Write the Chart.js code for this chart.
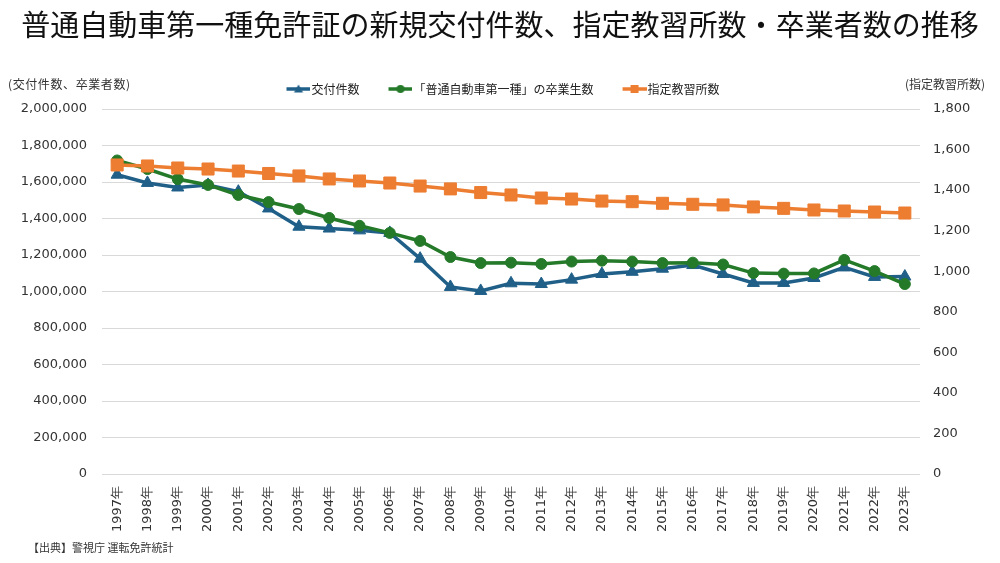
<!DOCTYPE html>
<html lang="ja">
<head>
<meta charset="utf-8">
<title>普通自動車第一種免許証の新規交付件数、指定教習所数・卒業者数の推移</title>
<script src="https://cdn.jsdelivr.net/npm/chart.js@4/dist/chart.umd.min.js"></script>
<style>
  html, body { margin: 0; padding: 0; background: #fff; }
  #wrap { position: relative; width: 1000px; height: 563px; overflow: hidden; font-family: "Noto Sans CJK JP", sans-serif; color: #222; }
  #chart { position: absolute; left: 0; top: 0; }
  .txt { position: absolute; white-space: nowrap; }
  #title { left: 0; width: 1000px; top: 3px; text-align: center; font-size: 31px; line-height: 40px; color: #111; }
  #title span { display: inline-block; }
  #capL { left: 8px; top: 75px; font-size: 12px; letter-spacing: 0.6px; color: #333; }
  #capR { left: 905px; top: 75px; font-size: 12px; color: #333; }
  #src { left: 28px; top: 539px; font-size: 11px; color: #333; }
</style>
</head>
<body>
<div id="wrap">
  <canvas id="chart" width="1000" height="563"></canvas>
  <div class="txt" id="title"><span id="titleText">普通自動車第一種免許証の新規交付件数、指定教習所数・卒業者数の推移</span></div>
  <div class="txt" id="capL">(交付件数、卒業者数)</div>
  <div class="txt" id="capR">(指定教習所数)</div>
  <div class="txt" id="src">【出典】警視庁 運転免許統計</div>
</div>
<script>
// data
const years = ["1997年", "1998年", "1999年", "2000年", "2001年", "2002年", "2003年", "2004年", "2005年",
  "2006年", "2007年", "2008年", "2009年", "2010年", "2011年", "2012年", "2013年", "2014年", "2015年",
  "2016年", "2017年", "2018年", "2019年", "2020年", "2021年", "2022年", "2023年"];

const issued = [1640000, 1595000, 1570000, 1584000, 1547000, 1455000, 1355000, 1345000, 1335000,
  1321000, 1180000, 1025000, 1003000, 1045000, 1041000, 1065000, 1096000, 1108000, 1125000,
  1145000, 1096000, 1047000, 1047000, 1074000, 1132000, 1080000, 1082000];

const graduates = [1718000, 1671000, 1616000, 1584000, 1529000, 1490000, 1452000, 1403000, 1360000,
  1321000, 1277000, 1189000, 1156000, 1158000, 1151000, 1164000, 1169000, 1164000, 1156000,
  1158000, 1148000, 1101000, 1098000, 1099000, 1173000, 1112000, 1041000];

const schools = [1524, 1519, 1509, 1504, 1494, 1482, 1470, 1455, 1445,
  1435, 1420, 1406, 1388, 1376, 1361, 1356, 1346, 1343, 1335,
  1330, 1327, 1317, 1310, 1302, 1297, 1292, 1287];

const leftTicks = { min: 0, max: 2000000, step: 200000 };
const rightTicks = { min: 0, max: 1800, step: 200 };

const BLUE = "#1f5f88";
const GREEN = "#257a2a";
const ORANGE = "#ed7d31";

// title spans about 958px in the reference, size it to that
function fitTitle() {
  const t = document.getElementById("titleText");
  t.style.fontSize = "31px";
  const w = t.getBoundingClientRect().width;
  if (w > 0) t.style.fontSize = (31 * 958 / w).toFixed(2) + "px";
}
fitTitle();
if (document.fonts) document.fonts.ready.then(fitTitle);

// little line+marker picture for the legend, Excel style
function legendMarker(color, shape) {
  const c = document.createElement("canvas");
  c.width = 43; c.height = 12;
  const g = c.getContext("2d");
  g.strokeStyle = color; g.fillStyle = color; g.lineWidth = 3.5;
  g.beginPath(); g.moveTo(19, 6); g.lineTo(43, 6); g.stroke();
  g.beginPath();
  if (shape === "triangle") { g.moveTo(31, 1.5); g.lineTo(35.5, 9.5); g.lineTo(26.5, 9.5); g.closePath(); }
  else if (shape === "circle") { g.arc(31, 6, 4, 0, Math.PI * 2); }
  else { g.rect(27, 2, 8, 8); }
  g.fill();
  return c;
}

const markers = [legendMarker(BLUE, "triangle"), legendMarker(GREEN, "circle"), legendMarker(ORANGE, "rect")];

const tickFont = { family: "'DejaVu Sans', sans-serif", size: 13 };

const chart = new Chart(document.getElementById("chart"), {
  type: "line",
  data: {
    labels: years,
    datasets: [
      {
        label: "交付件数", data: issued, yAxisID: "y", order: 2,
        borderColor: BLUE, backgroundColor: BLUE, borderWidth: 3.5,
        pointStyle: "triangle", pointRadius: 7, pointBorderWidth: 1
      },
      {
        label: "「普通自動車第一種」の卒業生数", data: graduates, yAxisID: "y", order: 1,
        borderColor: GREEN, backgroundColor: GREEN, borderWidth: 3.5,
        pointStyle: "circle", pointRadius: 5.5, pointBorderWidth: 1
      },
      {
        label: "指定教習所数", data: schools, yAxisID: "y2", order: 0,
        borderColor: ORANGE, backgroundColor: ORANGE, borderWidth: 3.5,
        pointStyle: "rect", pointRadius: 8.5, pointBorderWidth: 1
      }
    ]
  },
  options: {
    responsive: false,
    animation: false,
    layout: { padding: { top: 68, left: 0, right: 8, bottom: 0 } },
    plugins: {
      title: { display: false },
      // empty subtitle used only as a small gap between the legend and the plot
      subtitle: { display: true, text: " ", weight: 500, font: { size: 1, lineHeight: 1 }, padding: { top: 0, bottom: 3 } },
      tooltip: { enabled: false },
      legend: {
        position: "top",
        labels: {
          usePointStyle: true,
          pointStyleWidth: 33,
          padding: 15,
          color: "#222",
          font: { family: "'Noto Sans CJK JP', sans-serif", size: 12 },
          generateLabels(ch) {
            const items = Chart.defaults.plugins.legend.labels.generateLabels(ch);
            items.forEach(it => { it.pointStyle = markers[it.datasetIndex]; });
            return items;
          },
          sort: (a, b) => a.datasetIndex - b.datasetIndex
        }
      }
    },
    scales: {
      x: {
        offset: true,
        grid: { display: false },
        border: { display: false },
        ticks: { color: "#333", font: tickFont, minRotation: 90, maxRotation: 90, autoSkip: false, padding: 4 },
        afterFit(s) { s.height = 89; }
      },
      y: {
        position: "left",
        min: leftTicks.min, max: leftTicks.max,
        grid: { color: "#d9d9d9", lineWidth: 1, drawTicks: false },
        border: { display: false },
        ticks: {
          stepSize: leftTicks.step, color: "#333", font: tickFont, padding: 15,
          callback: v => v.toLocaleString("en-US")
        },
        afterFit(s) { s.width = 102; }
      },
      y2: {
        position: "right",
        min: rightTicks.min, max: rightTicks.max,
        grid: { drawOnChartArea: false, drawTicks: false },
        border: { display: false },
        ticks: {
          stepSize: rightTicks.step, color: "#333", font: tickFont, padding: 13,
          callback: v => v.toLocaleString("en-US")
        },
        afterFit(s) { s.width = 72; }
      }
    }
  }
});
</script>
</body>
</html>
